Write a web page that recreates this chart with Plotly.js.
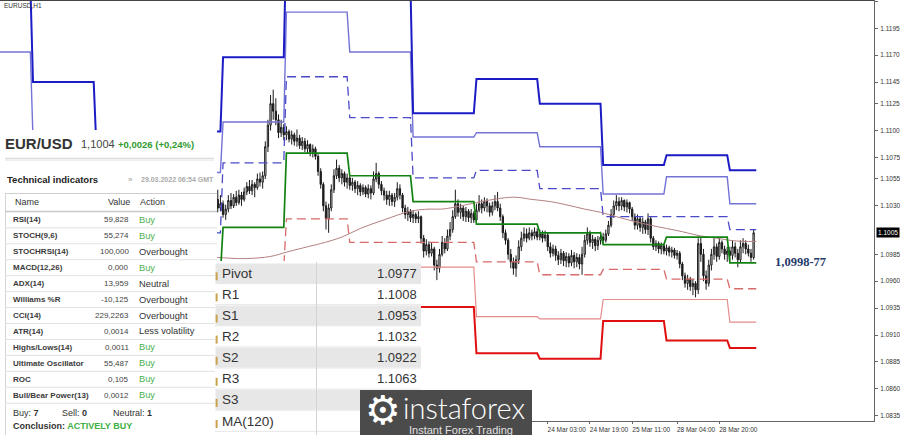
<!DOCTYPE html>
<html><head><meta charset="utf-8">
<script src="https://cdn.plot.ly/plotly-3.0.1.min.js"></script>
<style>html,body{margin:0;padding:0;background:#fff;overflow:hidden}#chart{width:900px;height:435px}</style>
</head><body><div id="chart"></div>
<script>
// ---------------- DATA ----------------
const firstBar = 66; // hourly bar index of first candle (bar 0 = 14 Mar 00:00)
const barOpen = [
1.1030,1.1038,1.1033,1.1040,1.1036,1.1028,1.1032,1.1022,1.1027,1.1035,
1.1030,1.1038,1.1033,1.1040,1.1036,1.1043,1.1048,1.1044,1.1050,1.1047,
1.1055,1.1052,1.1058,1.1085,1.1105,1.1125,1.1118,1.1110,1.1098,1.1103,
1.1096,1.1099,1.1092,1.1096,1.1090,1.1093,1.1086,1.1090,1.1083,1.1087,
1.1080,1.1083,1.1076,1.1062,1.1050,1.1030,1.1018,1.1028,1.1045,1.1058,
1.1065,1.1056,1.1060,1.1052,1.1056,1.1049,1.1052,1.1046,1.1049,1.1043,
1.1047,1.1041,1.1046,1.1042,1.1055,1.1060,1.1050,1.1044,1.1040,1.1036,
1.1040,1.1034,1.1038,1.1046,1.1040,1.1028,1.1022,1.1025,1.1019,1.1022,
1.1018,1.1020,1.1000,1.0988,1.0994,1.0986,1.0990,1.0975,1.0972,1.0985,
1.0996,1.0990,1.1002,1.1008,1.1020,1.1032,1.1024,1.1028,1.1020,1.1025,
1.1019,1.1023,1.1017,1.1026,1.1032,1.1028,1.1034,1.1030,1.1024,1.1030,
1.1034,1.1028,1.1020,1.1005,1.0998,1.0985,1.0978,1.0972,1.0980,1.0992,
1.1000,1.1004,1.1000,1.1005,1.1002,1.1006,1.1001,1.1004,1.1000,1.1003,
1.0992,1.0986,1.0990,1.0984,1.0980,1.0986,1.0979,1.0983,1.0977,1.0984,
1.0978,1.0982,1.0976,1.0985,1.0998,1.1004,1.0996,1.0999,1.0993,1.0998,
1.1001,1.0998,1.1004,1.1012,1.1022,1.1030,1.1034,1.1030,1.1035,1.1029,
1.1033,1.1027,1.1020,1.1012,1.1018,1.1010,1.1015,1.1008,1.1018,1.1000,
1.0992,1.0995,1.0990,1.0993,1.0988,1.0991,1.0987,1.0989,1.0984,1.0986,
1.0976,1.0965,1.0958,1.0962,1.0955,1.0958,1.0952,1.0995,1.0985,1.0965,
1.0958,1.0975,1.0985,1.0992,1.0983,1.0996,1.0990,1.0985,1.0988,1.0984,
1.0992,1.0986,1.0980,1.0992,1.0995,1.0990,1.0986,1.0982];
const barHigh = [
1.1042,1.1041,1.1044,1.1043,1.1045,1.1040,1.1035,1.1031,1.1040,1.1042,
1.1041,1.1044,1.1045,1.1043,1.1047,1.1052,1.1054,1.1054,1.1052,1.1060,
1.1061,1.1062,1.1090,1.1110,1.1133,1.1138,1.1130,1.1115,1.1110,1.1106,
1.1104,1.1101,1.1100,1.1098,1.1101,1.1096,1.1094,1.1093,1.1091,1.1088,
1.1087,1.1085,1.1078,1.1065,1.1052,1.1034,1.1032,1.1050,1.1064,1.1073,
1.1068,1.1064,1.1062,1.1060,1.1058,1.1056,1.1054,1.1053,1.1051,1.1050,
1.1049,1.1050,1.1049,1.1062,1.1070,1.1062,1.1053,1.1047,1.1044,1.1044,
1.1042,1.1042,1.1052,1.1050,1.1042,1.1031,1.1029,1.1027,1.1026,1.1024,
1.1025,1.1021,1.1003,1.0999,1.0997,1.0996,1.0992,1.0980,1.0990,1.1002,
1.1000,1.1008,1.1015,1.1026,1.1045,1.1036,1.1032,1.1030,1.1029,1.1027,
1.1027,1.1025,1.1032,1.1040,1.1036,1.1038,1.1037,1.1033,1.1034,1.1040,
1.1043,1.1032,1.1022,1.1008,1.1000,1.0990,1.0982,1.0984,1.0998,1.1006,
1.1010,1.1009,1.1010,1.1008,1.1010,1.1009,1.1008,1.1007,1.1007,1.1005,
1.0996,1.0994,1.0993,1.0988,1.0990,1.0988,1.0987,1.0986,1.0989,1.0987,
1.0986,1.0985,1.0992,1.1003,1.1010,1.1007,1.1003,1.1001,1.1002,1.1006,
1.1005,1.1008,1.1016,1.1027,1.1035,1.1040,1.1038,1.1038,1.1036,1.1036,
1.1034,1.1029,1.1023,1.1022,1.1020,1.1019,1.1017,1.1023,1.1020,1.1002,
1.0998,1.0997,1.0996,1.0995,1.0994,1.0993,1.0992,1.0991,1.0989,1.0988,
1.0978,1.0968,1.0966,1.0964,1.0962,1.0960,1.1000,1.1001,1.0990,1.0970,
1.0980,1.0990,1.1000,1.0995,1.1000,1.0998,1.0993,1.0992,1.0992,1.0998,
1.0996,1.0990,1.0998,1.1000,1.0998,1.0994,1.0990,1.1008];
const barLow = [
1.1026,1.1029,1.1030,1.1032,1.1024,1.1025,1.1019,1.1017,1.1024,1.1027,
1.1028,1.1030,1.1031,1.1030,1.1034,1.1040,1.1041,1.1040,1.1038,1.1045,
1.1048,1.1046,1.1055,1.1080,1.1100,1.1110,1.1105,1.1093,1.1094,1.1091,
1.1091,1.1089,1.1087,1.1086,1.1085,1.1083,1.1082,1.1080,1.1079,1.1076,
1.1075,1.1073,1.1058,1.1046,1.1025,1.1008,1.1005,1.1025,1.1042,1.1055,
1.1052,1.1050,1.1048,1.1046,1.1045,1.1044,1.1042,1.1040,1.1039,1.1040,
1.1038,1.1037,1.1036,1.1040,1.1052,1.1046,1.1040,1.1035,1.1031,1.1030,
1.1030,1.1029,1.1035,1.1036,1.1024,1.1018,1.1016,1.1015,1.1014,1.1014,
1.1014,1.0995,1.0982,1.0984,1.0982,1.0983,1.0970,1.0961,1.0968,1.0983,
1.0986,1.0988,1.0998,1.1005,1.1018,1.1020,1.1018,1.1016,1.1015,1.1015,
1.1014,1.1014,1.1015,1.1024,1.1023,1.1025,1.1024,1.1020,1.1021,1.1026,
1.1025,1.1016,1.1000,1.0994,1.0980,1.0972,1.0966,1.0964,1.0976,1.0988,
1.0997,1.0996,1.0998,1.0998,1.0999,1.0998,1.0998,1.0996,1.0997,1.0988,
1.0982,1.0983,1.0979,1.0975,1.0976,1.0974,1.0973,1.0973,1.0974,1.0972,
1.0973,1.0971,1.0966,1.0982,1.0994,1.0992,1.0990,1.0988,1.0989,1.0994,
1.0995,1.0996,1.1002,1.1010,1.1019,1.1026,1.1025,1.1026,1.1025,1.1024,
1.1023,1.1016,1.1008,1.1008,1.1006,1.1004,1.1004,1.1003,1.0996,1.0989,
1.0988,1.0986,1.0985,1.0985,1.0984,1.0983,1.0982,1.0981,1.0980,1.0972,
1.0961,1.0954,1.0952,1.0951,1.0947,1.0945,1.0948,1.0978,1.0960,1.0952,
1.0955,1.0970,1.0980,1.0978,1.0980,1.0986,1.0980,1.0978,1.0979,1.0980,
1.0982,1.0973,1.0977,1.0986,1.0985,1.0983,1.0978,1.0980];
const barClose = [
1.1038,1.1033,1.1040,1.1036,1.1028,1.1032,1.1022,1.1027,1.1035,1.1030,
1.1038,1.1033,1.1040,1.1036,1.1043,1.1048,1.1044,1.1050,1.1047,1.1055,
1.1052,1.1058,1.1085,1.1105,1.1125,1.1118,1.1110,1.1098,1.1103,1.1096,
1.1099,1.1092,1.1096,1.1090,1.1093,1.1086,1.1090,1.1083,1.1087,1.1080,
1.1083,1.1076,1.1062,1.1050,1.1030,1.1018,1.1028,1.1045,1.1058,1.1065,
1.1056,1.1060,1.1052,1.1056,1.1049,1.1052,1.1046,1.1049,1.1043,1.1047,
1.1041,1.1046,1.1042,1.1055,1.1060,1.1050,1.1044,1.1040,1.1036,1.1040,
1.1034,1.1038,1.1046,1.1040,1.1028,1.1022,1.1025,1.1019,1.1022,1.1018,
1.1020,1.1000,1.0988,1.0994,1.0986,1.0990,1.0975,1.0972,1.0985,1.0996,
1.0990,1.1002,1.1008,1.1020,1.1032,1.1024,1.1028,1.1020,1.1025,1.1019,
1.1023,1.1017,1.1026,1.1032,1.1028,1.1034,1.1030,1.1024,1.1030,1.1034,
1.1028,1.1020,1.1005,1.0998,1.0985,1.0978,1.0972,1.0980,1.0992,1.1000,
1.1004,1.1000,1.1005,1.1002,1.1006,1.1001,1.1004,1.1000,1.1003,1.0992,
1.0986,1.0990,1.0984,1.0980,1.0986,1.0979,1.0983,1.0977,1.0984,1.0978,
1.0982,1.0976,1.0985,1.0998,1.1004,1.0996,1.0999,1.0993,1.0998,1.1001,
1.0998,1.1004,1.1012,1.1022,1.1030,1.1034,1.1030,1.1035,1.1029,1.1033,
1.1027,1.1020,1.1012,1.1018,1.1010,1.1015,1.1008,1.1018,1.1000,1.0992,
1.0995,1.0990,1.0993,1.0988,1.0991,1.0987,1.0989,1.0984,1.0986,1.0976,
1.0965,1.0958,1.0962,1.0955,1.0958,1.0952,1.0995,1.0985,1.0965,1.0958,
1.0975,1.0985,1.0992,1.0983,1.0996,1.0990,1.0985,1.0988,1.0984,1.0992,
1.0986,1.0980,1.0992,1.0995,1.0990,1.0986,1.0982,1.1005];

// daily pivot levels: 11,14,15,16,17,18,21,22,23,24,25,28,29 Mar
const dayStart = [-24,0,24,48,72,96,120,144,168,192,216,240,264];
const levelEnd = 274;
const levelR3 = [1.1235,1.1145,1.1085,1.1099,1.1168,1.1282,1.1234,1.1116,1.1148,1.1125,1.1068,1.1077,1.1063];
const levelR2 = [1.1173,1.1092,1.1055,1.1061,1.1108,1.1210,1.1173,1.1094,1.1098,1.1085,1.1041,1.1057,1.1032];
const levelR1 = [1.1095,1.1064,1.1005,1.1005,1.1070,1.1150,1.1112,1.1056,1.1063,1.1046,1.1020,1.1020,1.1008];
const levelP  = [1.1040,1.1012,1.0975,1.0967,1.1010,1.1079,1.1058,1.1034,1.1013,1.1005,1.0994,1.1001,1.0977];
const levelS1 = [1.0962,1.0984,1.0925,1.0911,1.0972,1.1018,1.0996,1.0996,1.0978,1.0966,1.0971,1.0962,1.0953];
const levelS2 = [1.0907,1.0932,1.0895,1.0873,1.0912,1.0947,1.0942,1.0973,1.0927,1.0925,1.0943,1.0943,1.0922];
const levelS3 = [1.0829,1.0904,1.0845,1.0817,1.0874,1.0886,1.0880,1.0936,1.0893,1.0888,1.0923,1.0905,1.0898];

// MA(120)
const maBar   = [66,70,80,90,96,104,109,117,124,133,143,150,155,162,168,177,183,189,196,202,209,215,221,227,234,240,246,253,259,264,269,274];
const maValue = [1.0982,1.0982,1.0981,1.0983,1.0987,1.0992,1.0995,1.1001,1.1009,1.1017,1.1025,1.1027,1.1027,1.1030,1.1033,1.1037,1.1038,1.1036,1.1034,1.1031,1.1027,1.1024,1.1020,1.1016,1.1012,1.1009,1.1006,1.1002,1.1000,1.0998,1.0997,1.0997];

// axes
const xTickBar  = [195,211,227,244,260];
const xTickText = ['24 Mar 03:00','24 Mar 19:00','25 Mar 11:00','28 Mar 04:00','28 Mar 20:00'];
const yTickValues = [1.1220,1.1195,1.1170,1.1145,1.1125,1.1100,1.1075,1.1055,1.1030,1.0985,1.0960,1.0935,1.0910,1.0885,1.0860,1.0835];
const currentPrice = 1.1005;

// info panel
const chartTitle = 'EURUSD,H1';
const quoteSymbol = 'EUR/USD', quotePrice = '1,1004', quoteChange = '+0,0026 (+0,24%)';
const panelTitle = 'Technical indicators', panelTime = '29.03.2022 06:54 GMT';
const indName   = ['RSI(14)','STOCH(9,6)','STOCHRSI(14)','MACD(12,26)','ADX(14)','Williams %R','CCI(14)','ATR(14)','Highs/Lows(14)','Ultimate Oscillator','ROC','Bull/Bear Power(13)'];
const indValue  = ['59,828','55,274','100,000','0,000','13,959','-10,125','229,2263','0,0014','0,0011','55,487','0,105','0,0012'];
const indAction = ['Buy','Buy','Overbought','Buy','Neutral','Overbought','Overbought','Less volatility','Buy','Buy','Buy','Buy'];
const summaryBuy = 7, summarySell = 0, summaryNeutral = 1, conclusion = 'ACTIVELY BUY';
const pivotLabels = ['Pivot','R1','S1','R2','S2','R3','S3','MA(120)'];
const pivotValues = ['1.0977','1.1008','1.0953','1.1032','1.0922','1.1063','',''];
const zoneLabel = '1,0998-77';

// ---------------- LAYOUT HELPERS ----------------
const W = 874, H = 421;
const FONT = 'Liberation Sans, Arial, sans-serif';
const px = v => v / W;
const py = v => 1 - v / H;
const shapes = [];
const ann = [];
function rect(x0,y0,x1,y1,fill){ shapes.push({type:'rect',xref:'paper',yref:'paper',x0:px(x0),x1:px(x1),y0:py(y1),y1:py(y0),fillcolor:fill,line:{width:0},layer:'above'}); }
function hline(x0,x1,y,color,w){ shapes.push({type:'line',xref:'paper',yref:'paper',x0:px(x0),x1:px(x1),y0:py(y),y1:py(y),line:{color:color,width:w||1},layer:'above'}); }
function vline(x,y0,y1,color,w){ shapes.push({type:'line',xref:'paper',yref:'paper',x0:px(x),x1:px(x),y0:py(y0),y1:py(y1),line:{color:color,width:w||1},layer:'above'}); }
function txt(x,y,text,size,color,anchor,extra){
  ann.push(Object.assign({xref:'paper',yref:'paper',x:px(x),y:py(y),text:text,showarrow:false,
    xanchor:anchor||'left',yanchor:'middle',borderpad:0,borderwidth:0,
    font:{size:size,color:color,family:FONT}},extra||{}));
}

// top frame line
hline(0,874,0.5,'#444',1);

// left info panel
rect(0,130,217,435,'#ffffff');
hline(5,214,158.5,'#dcdcdc',1.5);
hline(5,214,160.3,'#eeeeee',1.5);
txt(5,143,'<b>'+quoteSymbol+'</b>',15,'#333');
txt(81,144,quotePrice,11,'#444');
txt(118,144,'<b>'+quoteChange+'</b>',9.5,'#2f9a2f');
txt(7,179,'<b>'+panelTitle+'</b>',9.5,'#222');
txt(128,179,'»',8,'#999');
txt(141,179,'<b>'+panelTime+'</b>',7,'#aaa');
vline(5.5,193,435,'#d5d5d5');
hline(5,217,193.5,'#cfcfcf');
hline(5,217,211.5,'#c8c8c8',1.5);
txt(15,202,'Name',9,'#333');
txt(130,202,'Value',9,'#333','right');
txt(140,202,'Action',9,'#333');
indName.forEach((n,k)=>{
  const yc = 219.8 + 15.95*k;
  hline(5,217,yc+8,'#e2e2e2');
  txt(12.7,yc,'<b>'+n+'</b>',8,'#3a3a3a');
  txt(129,yc,indValue[k],8,'#444','right');
  txt(139,yc,indAction[k],9.3,indAction[k]==='Buy'?'#4cb04c':'#333');
});
txt(12.7,413,'Buy: <b>'+summaryBuy+'</b>',9,'#333');
txt(61.7,413,'Sell: <b>'+summarySell+'</b>',9,'#333');
txt(112.7,413,'Neutral: <b>'+summaryNeutral+'</b>',9,'#333');
txt(12.7,426,'<b>Conclusion: <span style="color:#3cb043">'+conclusion+'</span></b>',9,'#333');

// pivot table
rect(215,261,421,435,'#ffffff');
pivotLabels.forEach((lab,k)=>{
  const top = 262.8 + 21.1*k, yc = top + 10.5;
  if (k % 2 === 0) rect(215.5,top+0.6,421,top+20.3,'#e7e7e7');
  hline(215,421,top+20.8,'#e6e6e6');
  rect(215.6,yc-1,217.6,yc+7,'#c9a24e');
  txt(222,yc,lab,13.5,'#333');
  if (pivotValues[k]) txt(417,yc,pivotValues[k],13,'#333','right');
});
vline(316.5,262,435,'#d3d3d3');

// logo
rect(360,390,532,435,'#4b4b4b');
txt(383,410,'⚙',40,'#ffffff','center',{font:{size:40,color:'#ffffff',family:'DejaVu Sans'}});
txt(403,407,'instaforex',29,'#ffffff','left',{font:{size:29,color:'#ffffff',family:'Lato, Open Sans, sans-serif',weight:300}});
txt(409,429.5,'Instant Forex Trading',11,'#e2e2e2');

// chart texts
txt(4,5,chartTitle,6.5,'#333');
txt(775,262,'<b>'+zoneLabel+'</b>',12.5,'#1f3a6b','left',{font:{size:12.5,color:'#1f3a6b',family:'Liberation Serif, Times New Roman, serif'}});
ann.push({xref:'paper',yref:'y',x:px(875.5),y:currentPrice,text:currentPrice.toFixed(4),showarrow:false,xanchor:'left',yanchor:'middle',
  bgcolor:'#000',borderpad:1,font:{size:6.5,color:'#fff',family:FONT}});

// ---------------- TRACES ----------------
const barX = barClose.map((_,k)=>firstBar+k);
const traces = [{
  type:'candlestick', x:barX, open:barOpen, high:barHigh, low:barLow, close:barClose,
  increasing:{line:{color:'#1a1a1a',width:1},fillcolor:'#ffffff'},
  decreasing:{line:{color:'#1a1a1a',width:1},fillcolor:'#1a1a1a'},
  whiskerwidth:0, hoverinfo:'skip', showlegend:false
}];
function stepTrace(levels,color,width,dash){
  const xs=[], ys=[];
  levels.forEach((v,d)=>{
    const s = dayStart[d];
    const e = d < dayStart.length-1 ? dayStart[d+1]-1 : levelEnd;
    xs.push(s,e); ys.push(v,v);
  });
  return {type:'scatter',mode:'lines',x:xs,y:ys,line:{color:color,width:width,dash:dash||'solid'},hoverinfo:'skip',showlegend:false};
}
traces.push(stepTrace(levelS2,'#e58c8c',1.2));
traces.push(stepTrace(levelR2,'#7373d6',1.4));
traces.push(stepTrace(levelS1,'#d86a6a',1.3,'9px,5px'));
traces.push(stepTrace(levelR1,'#4a4ac8',1.3,'9px,5px'));
traces.push({type:'scatter',mode:'lines',x:maBar,y:maValue,line:{color:'#b57f7f',width:1,shape:'spline'},hoverinfo:'skip',showlegend:false});
traces.push(stepTrace(levelP,'#128212',1.7));
traces.push(stepTrace(levelS3,'#e01010',2));
traces.push(stepTrace(levelR3,'#1c1cc4',2));

const layout = {
  width:900, height:435,
  margin:{l:0,r:26,t:0,b:14,pad:0},
  paper_bgcolor:'#ffffff', plot_bgcolor:'#ffffff',
  showlegend:false,
  font:{family:FONT,size:7,color:'#333'},
  xaxis:{range:[-12.5,318.6],showgrid:false,zeroline:false,showline:true,linecolor:'#666',linewidth:1,
    ticks:'outside',ticklen:2,tickcolor:'#666',tickvals:xTickBar,ticktext:xTickText,
    tickfont:{size:6.5,color:'#333',family:FONT},ticklabelshift:19,ticklabelstandoff:0,
    rangeslider:{visible:false},fixedrange:true},
  yaxis:{range:[1.08301,1.12213],side:'right',showgrid:false,zeroline:false,showline:true,linecolor:'#666',linewidth:1,
    ticks:'outside',ticklen:3,tickcolor:'#666',tickvals:yTickValues,ticktext:yTickValues.map(v=>v.toFixed(4)),
    tickfont:{size:6.5,color:'#333',family:FONT},ticklabelstandoff:1,fixedrange:true},
  shapes:shapes,
  annotations:ann
};
Plotly.newPlot('chart',traces,layout,{staticPlot:true,displayModeBar:false});
</script>
</body></html>
